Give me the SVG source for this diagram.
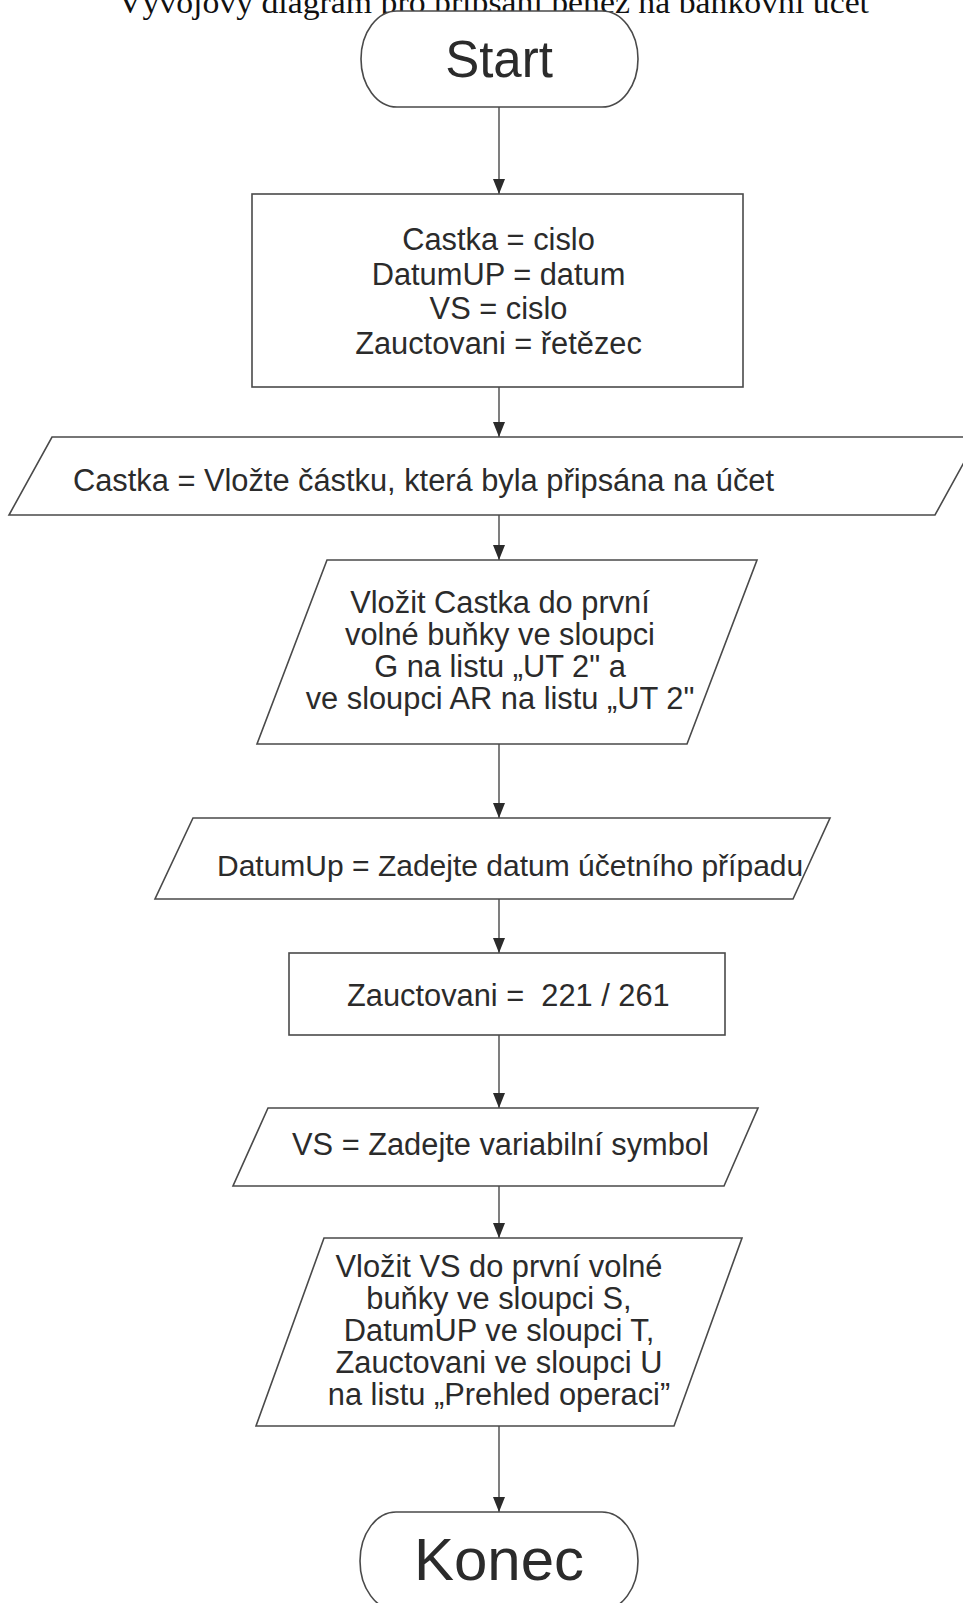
<svg xmlns="http://www.w3.org/2000/svg" width="963" height="1603" viewBox="0 0 963 1603">
<style>
.shape{fill:#ffffff;stroke:#4a4a4a;stroke-width:1.6}
.t{font-family:"Liberation Sans",Arial,sans-serif;font-size:30.8px;fill:#2b2b2b}
.c{text-anchor:middle}
.big{font-size:51px}
.title{font-family:"Liberation Serif","Times New Roman",serif;font-size:32px;fill:#111}
.conn{stroke:#3a3a3a;stroke-width:1.3;fill:none;marker-end:url(#arr)}
</style>
<defs>
<marker id="arr" markerUnits="userSpaceOnUse" markerWidth="15" markerHeight="12" refX="15" refY="6" orient="auto">
<path d="M0,0 L15,6 L0,12 z" fill="#2b2b2b"/>
</marker>
</defs>
<rect width="963" height="1603" fill="#ffffff"/>
<g id="title">
<text class="title" x="493.5" y="13" text-anchor="middle" textLength="751" lengthAdjust="spacingAndGlyphs">Vývojový diagram pro připsání peněz na bankovní účet</text>
</g>
<g id="connectors">
<line class="conn" x1="499" y1="107" x2="499" y2="194"/>
<line class="conn" x1="499" y1="387" x2="499" y2="437"/>
<line class="conn" x1="499" y1="515" x2="499" y2="560"/>
<line class="conn" x1="499" y1="744" x2="499" y2="818"/>
<line class="conn" x1="499" y1="899" x2="499" y2="953"/>
<line class="conn" x1="499" y1="1035" x2="499" y2="1108"/>
<line class="conn" x1="499" y1="1186" x2="499" y2="1238"/>
<line class="conn" x1="499" y1="1426" x2="499" y2="1512"/>
</g>
<g id="start">
<rect class="shape" x="361" y="11" width="277" height="96" rx="36" ry="48"/>
<text class="t c big" x="499" y="77">Start</text>
</g>
<g id="declare">
<rect class="shape" x="252" y="194" width="491" height="193"/>
<text class="t c" x="498.5" y="250">Castka = cislo</text>
<text class="t c" x="498.5" y="285">DatumUP = datum</text>
<text class="t c" x="498.5" y="319">VS = cislo</text>
<text class="t c" x="498.5" y="354">Zauctovani = řetězec</text>
</g>
<g id="input-castka">
<polygon class="shape" points="52,437 978,437 935,515 9,515"/>
<text class="t" x="73" y="491">Castka = Vložte částku, která byla připsána na účet</text>
</g>
<g id="write-castka">
<polygon class="shape" points="327,560 757,560 687,744 257,744"/>
<text class="t c" x="500" y="613">Vložit Castka do první</text>
<text class="t c" x="500" y="645">volné buňky ve sloupci</text>
<text class="t c" x="500" y="677">G na listu „UT 2" a</text>
<text class="t c" x="500" y="709">ve sloupci AR na listu „UT 2"</text>
</g>
<g id="input-datum">
<polygon class="shape" points="193,818 830,818 793,899 155,899"/>
<text class="t" x="217" y="876" style="font-size:30px">DatumUp = Zadejte datum účetního případu</text>
</g>
<g id="zauctovani">
<rect class="shape" x="289" y="953" width="436" height="82"/>
<text class="t" x="347" y="1006" xml:space="preserve">Zauctovani =  221 / 261</text>
</g>
<g id="input-vs">
<polygon class="shape" points="268,1108 758,1108 724,1186 233,1186"/>
<text class="t" x="292" y="1155">VS = Zadejte variabilní symbol</text>
</g>
<g id="write-vs">
<polygon class="shape" points="324,1238 742,1238 674,1426 256,1426"/>
<text class="t c" x="499" y="1277">Vložit VS do první volné</text>
<text class="t c" x="499" y="1309">buňky ve sloupci S,</text>
<text class="t c" x="499" y="1341">DatumUP ve sloupci T,</text>
<text class="t c" x="499" y="1373">Zauctovani ve sloupci U</text>
<text class="t c" x="499" y="1405">na listu „Prehled operaci”</text>
</g>
<g id="konec">
<rect class="shape" x="360" y="1512" width="278" height="98" rx="36" ry="49"/>
<text class="t c" x="499" y="1580" style="font-size:60px">Konec</text>
</g>
</svg>
